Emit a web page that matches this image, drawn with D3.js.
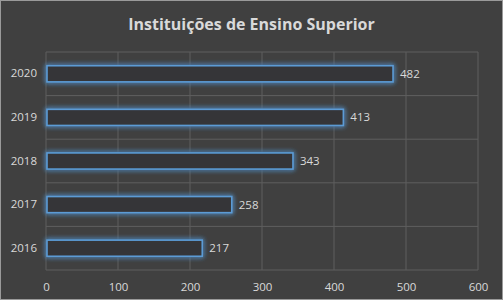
<!DOCTYPE html>
<html lang="pt">
<head>
<meta charset="UTF-8">
<title>Instituições de Ensino Superior</title>
<script src="https://d3js.org/d3.v7.min.js"></script>
<style>
    body { margin: 0; background: #404040; }
    svg text { font-family: "Open Sans", "Noto Sans", sans-serif; fill: #d9d9d9; }
</style>
</head>
<body>
<script>
    const years = ["2020", "2019", "2018", "2017", "2016"]
    const values = [482, 413, 343, 258, 217]
    const xTicks = [0, 100, 200, 300, 400, 500, 600]

    const W = 503, H = 300
    const margin = { top: 52, right: 25, bottom: 30, left: 46 }
    const width = W - margin.left - margin.right
    const height = H - margin.top - margin.bottom

    const svg = d3.select("body").append("svg")
        .attr("width", W)
        .attr("height", H)

    svg.append("rect")
        .attr("x", 0.5).attr("y", 0.5)
        .attr("width", W - 1).attr("height", H - 1)
        .attr("fill", "#404040")
        .attr("stroke", "#9a9a9a")

    // glow around the bars
    const filter = svg.append("defs").append("filter")
        .attr("id", "glow")
        .attr("x", "-10%").attr("y", "-60%")
        .attr("width", "120%").attr("height", "220%")
    filter.append("feGaussianBlur")
        .attr("in", "SourceGraphic")
        .attr("stdDeviation", 2.5)
        .attr("result", "blur")
    const merge = filter.append("feMerge")
    merge.append("feMergeNode").attr("in", "blur")
    merge.append("feMergeNode").attr("in", "blur")
    merge.append("feMergeNode").attr("in", "SourceGraphic")

    svg.append("text")
        .attr("x", W / 2)
        .attr("y", 30)
        .attr("text-anchor", "middle")
        .style("font-size", "16px")
        .style("font-weight", "bold")
        .text("Instituições de Ensino Superior")

    const g = svg.append("g")
        .attr("transform", "translate(" + margin.left + "," + margin.top + ")")

    const x = d3.scaleLinear().domain([0, 600]).range([0, width])
    const y = d3.scaleBand().domain(years).range([0, height]).paddingInner(0).paddingOuter(0)

    // vertical grid
    g.append("g")
        .selectAll("line")
        .data(xTicks)
        .join("line")
        .attr("x1", d => x(d)).attr("x2", d => x(d))
        .attr("y1", 0).attr("y2", height)
        .attr("stroke", "#5f5f5f")
        .attr("stroke-width", 1)

    // horizontal band lines
    g.append("g")
        .selectAll("line")
        .data(years.map(d => y(d)).concat([height]))
        .join("line")
        .attr("x1", x(0)).attr("x2", x(600))
        .attr("y1", d => d).attr("y2", d => d)
        .attr("stroke", "#5f5f5f")

    const barH = y.bandwidth() * 0.37

    g.append("g")
        .selectAll("rect")
        .data(values)
        .join("rect")
        .attr("x", x(0) + 1)
        .attr("y", (d, i) => y(years[i]) + (y.bandwidth() - barH) / 2)
        .attr("width", d => x(d) - x(0) - 1)
        .attr("height", barH)
        .attr("fill", "#363638")
        .attr("stroke", "#5b9bd5")
        .attr("stroke-width", 1.6)
        .attr("filter", "url(#glow)")

    g.append("g")
        .selectAll("text")
        .data(values)
        .join("text")
        .attr("x", d => x(d) + 7)
        .attr("y", (d, i) => y(years[i]) + y.bandwidth() / 2)
        .attr("dy", "0.35em")
        .style("font-size", "11.5px")
        .text(d => d)

    const yAxis = g.append("g")
        .call(d3.axisLeft(y).tickSize(0).tickPadding(9))
    yAxis.select(".domain").remove()
    yAxis.selectAll("text").style("font-size", "11.5px")

    const xAxis = g.append("g")
        .attr("transform", "translate(0," + height + ")")
        .call(d3.axisBottom(x).tickValues(xTicks).tickSize(0).tickPadding(13))
    xAxis.select(".domain").remove()
    xAxis.selectAll("text").style("font-size", "11.5px")
</script>
</body>
</html>
